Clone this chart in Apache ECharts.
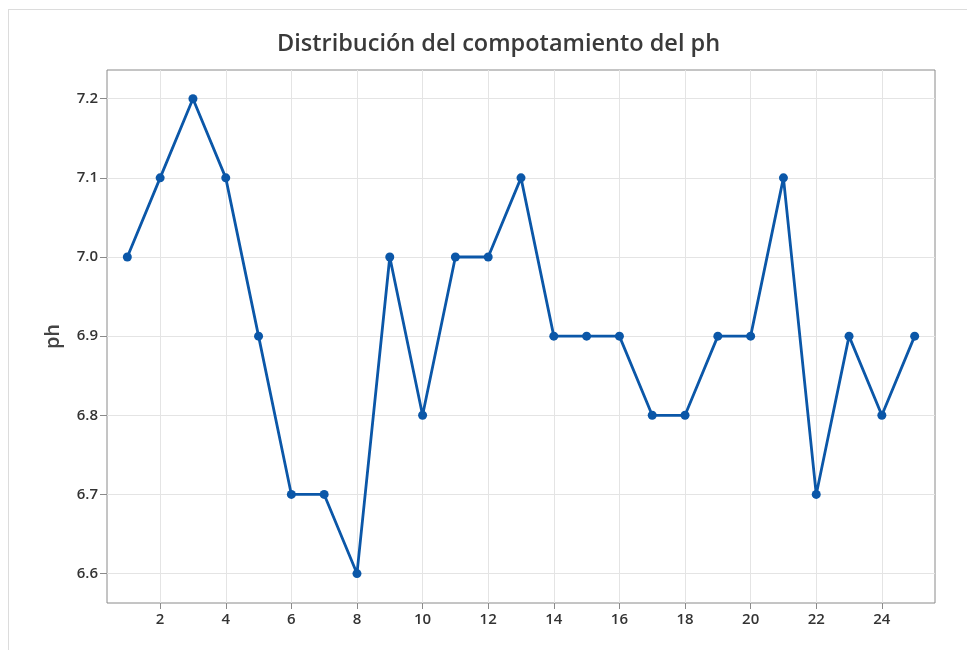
<!DOCTYPE html>
<html><head><meta charset="utf-8">
<script src="https://cdn.jsdelivr.net/npm/echarts@6/dist/echarts.min.js"></script>
<style>html,body{margin:0;padding:0;background:#fff}#frame{position:absolute;left:8px;top:9px;width:980px;height:660px;border:1px solid #dcdcdc;box-sizing:border-box}#c{width:967px;height:650px;position:absolute;left:0;top:0}</style>
</head><body><div id="frame"></div><div id="c"></div>
<script>
const titleText = 'Distribución del compotamiento del ph';
const yName = 'ph';
const xValues = [1,2,3,4,5,6,7,8,9,10,11,12,13,14,15,16,17,18,19,20,21,22,23,24,25];
const phValues = [7.0,7.1,7.2,7.1,6.9,6.7,6.7,6.6,7.0,6.8,7.0,7.0,7.1,6.9,6.9,6.9,6.8,6.8,6.9,6.9,7.1,6.7,6.9,6.8,6.9];
const xTicks = [2,4,6,8,10,12,14,16,18,20,22,24];
const yTicks = [6.6,6.7,6.8,6.9,7.0,7.1,7.2];

const chart = echarts.init(document.getElementById('c'), null, {renderer:'canvas'});
const font = '"Open Sans", "Noto Sans", sans-serif';
chart.setOption({
  backgroundColor: 'transparent',
  animation: false,
  title: {
    text: titleText, left: 272, top: 27,
    textStyle: {fontFamily: font, fontSize: 23.5, fontWeight: 600, color: '#3a3a3a'}
  },
  grid: {left: 107, right: 32, top: 70, bottom: 47, containLabel: false,
         show: true, borderColor: '#8a8a8a', borderWidth: 1},
  xAxis: {
    type: 'value', min: 0.38, max: 25.62,
    axisLine: {show: false},
    axisTick: {show: true, customValues: xTicks, length: 6, lineStyle: {color: '#8a8a8a'}},
    axisLabel: {customValues: xTicks, color: '#333', fontFamily: font, fontSize: 15, fontWeight: 600, margin: 9,
                formatter: v => String(v)},
    splitLine: {show: true, lineStyle: {color: '#e4e4e4', width: 1}}
  },
  yAxis: {
    type: 'value', min: 6.5628, max: 7.2363,
    name: yName, nameLocation: 'middle', nameGap: 44, nameRotate: 90,
    nameTextStyle: {fontFamily: font, fontSize: 20, color: '#444', fontWeight: 600},
    axisLine: {show: false},
    axisTick: {show: true, customValues: yTicks, length: 7, lineStyle: {color: '#8a8a8a'}},
    axisLabel: {customValues: yTicks, color: '#333', fontFamily: font, fontSize: 15, fontWeight: 600, margin: 9,
                formatter: v => v.toFixed(1)},
    splitLine: {show: true, lineStyle: {color: '#e4e4e4', width: 1}}
  },
  series: [{
    type: 'line',
    data: xValues.map((x, i) => [x, phValues[i]]),
    symbol: 'circle', symbolSize: 9,
    lineStyle: {color: '#0b57a8', width: 2.8},
    itemStyle: {color: '#0b57a8'}
  }]
});
</script></body></html>
